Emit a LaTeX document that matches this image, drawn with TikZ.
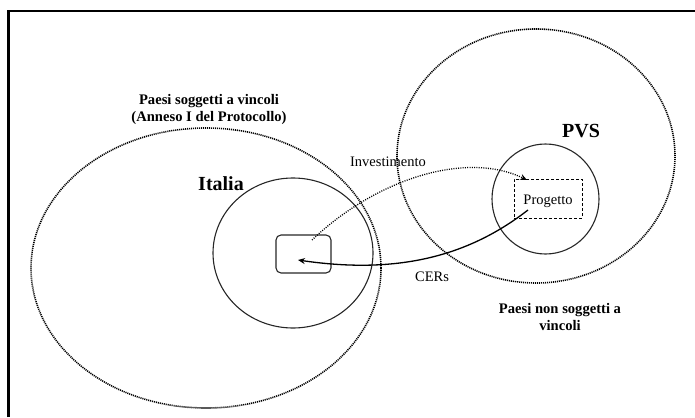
\documentclass[tikz,border=0pt]{standalone}
\usepackage{fontspec}
\setmainfont{Liberation Serif}
\usetikzlibrary{arrows.meta,shapes.geometric}
\tikzset{
  dotline/.style={line width=1.6pt, dash pattern=on 1.1pt off 0.9pt, black},
  solidcirc/.style={line width=1.1pt, black!85},
  grouplabel/.style={font=\fontsize{14.6}{16.5}\selectfont\bfseries, align=center, inner sep=0pt},
  biglabel/.style={font=\fontsize{20}{22}\selectfont\bfseries, inner sep=0pt},
  smalllabel/.style={font=\fontsize{14.5}{16}\selectfont, inner sep=0pt},
}
\begin{document}
\begin{tikzpicture}[x=1pt,y=-1pt]
\useasboundingbox (0,0) rectangle (695,417);
% frame
\draw[line width=2.2pt] (8.5,417) -- (8.5,11) -- (695,11);
% big dotted ellipses
\node[dotline, draw, ellipse, minimum width=350pt, minimum height=280pt, inner sep=0pt] (annex) at (206,268) {};
\node[dotline, draw, ellipse, minimum width=278pt, minimum height=254pt, inner sep=0pt] (nonannex) at (536,156) {};
% solid circles
\node[solidcirc, draw, ellipse, minimum width=160pt, minimum height=150pt, inner sep=0pt] (italia) at (293,253) {};
\node[solidcirc, draw, ellipse, minimum width=107pt, minimum height=110pt, inner sep=0pt] (pvs) at (545.5,199) {};
% boxes
\node[solidcirc, draw, rounded corners=5pt, minimum width=55pt, minimum height=38pt, inner sep=0pt] (itbox) at (303.5,254) {};
\node[draw, line width=1pt, dash pattern=on 3pt off 2pt, minimum width=68pt, minimum height=39pt, inner sep=0pt] (progbox) at (548,198.5) {};
\node[smalllabel] (progetto) at (548,201) {Progetto};
% labels
\node[grouplabel] (annexlbl) at (209,109.5) {Paesi soggetti a vincoli\\(Anneso I del Protocollo)};
\node[grouplabel] (nonlbl) at (560,317) {Paesi non soggetti a\\vincoli};
\node[biglabel] (italialbl) at (221,184) {Italia};
\node[biglabel] (pvslbl) at (581,131) {PVS};
\node[smalllabel] (invlbl) at (388,162) {Investimento};
\node[smalllabel] (cerlbl) at (432,277) {CERs};
% connectors
\coordinate (invstart) at (312,240);
\coordinate (invend) at (527,180);
\coordinate (cerstart) at (528,210);
\coordinate (cerend) at (298,260);
\draw[line width=1.3pt, dash pattern=on 1pt off 1.3pt, -{Stealth[length=7pt,width=6pt]}]
  (invstart) .. controls (375,180) and (465,150) .. (invend);
\draw[line width=1.3pt, -{Stealth[length=7pt,width=6pt]}]
  (cerstart) .. controls (470,255) and (400,275) .. (cerend);
\end{tikzpicture}
\end{document}
